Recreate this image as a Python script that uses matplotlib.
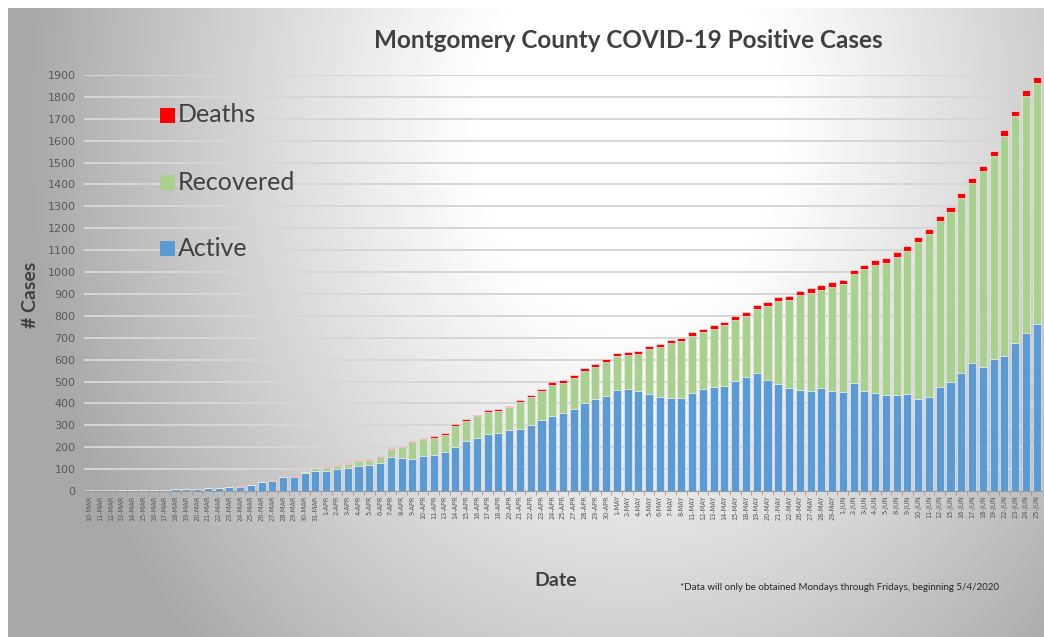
import matplotlib
matplotlib.use("Agg")
import matplotlib.pyplot as plt  # noqa: E402
import numpy as np  # noqa: E402
from matplotlib.patches import Rectangle  # noqa: E402

# dates shown on the x axis (weekdays only after 4-MAY)
DATES = (
    [f"{d}-MAR" for d in range(10, 32)]
    + [f"{d}-APR" for d in [1, 2, 3, 4, 5, 6, 7, 8, 9, 10, 11, 13, 14, 15, 16, 17, 18,
                             20, 21, 22, 23, 24, 25, 27, 28, 29, 30]]
    + [f"{d}-MAY" for d in [1, 2, 4, 5, 6, 7, 8, 11, 12, 13, 14, 15, 18, 19, 20, 21, 22,
                             26, 27, 28, 29]]
    + [f"{d}-JUN" for d in [1, 2, 3, 4, 5, 8, 9, 10, 11, 12, 15, 16, 17, 18, 19,
                             22, 23, 24, 25]]
)

ACTIVE = [1, 1, 2, 3, 3, 4, 4, 5, 7, 8, 10, 12, 12, 16, 19, 26, 39, 45, 62, 63,
          80, 90, 92, 99, 106, 116, 120, 129, 157, 149, 146, 160, 164, 177, 202, 228, 240, 260, 266, 278,
          283, 303, 323, 342, 355, 374, 400, 420, 435, 461, 464, 458, 443, 429, 423, 425, 449, 466, 476, 481,
          501, 521, 539, 507, 489, 469, 462, 457, 469, 457, 454, 495, 457, 449, 438, 437, 443, 422, 428, 476,
          498, 537, 583, 565, 603, 618, 677, 723, 763]
RECOVERED = [0, 0, 0, 0, 0, 0, 0, 0, 0, 0, 0, 0, 0, 1, 1, 1, 1, 2, 3, 3,
             6, 13, 14, 15, 18, 21, 23, 26, 33, 52, 77, 77, 80, 80, 97, 92, 102, 100, 100, 104,
             124, 126, 133, 144, 140, 143, 150, 148, 154, 155, 158, 168, 205, 230, 253, 260, 261, 260, 266, 276,
             282, 279, 292, 339, 377, 402, 434, 449, 451, 477, 490, 494, 555, 583, 605, 632, 654, 716, 745, 758,
             777, 799, 822, 895, 926, 1005, 1034, 1082, 1099]
DEATHS = [0, 0, 0, 0, 0, 0, 0, 1, 1, 1, 1, 1, 1, 1, 1, 1, 1, 1, 1, 1,
          2, 2, 3, 3, 3, 4, 4, 4, 5, 5, 5, 6, 6, 6, 7, 7, 7, 8, 8, 8,
          9, 9, 10, 10, 10, 11, 12, 12, 12, 13, 13, 13, 14, 14, 14, 15, 15, 15, 16, 16,
          16, 17, 17, 17, 18, 18, 18, 19, 19, 19, 20, 20, 20, 21, 21, 21, 22, 22, 22, 23,
          23, 23, 24, 24, 25, 25, 26, 26, 27]

C_ACT, C_REC, C_DEA = "#5b9bd5", "#a9d18e", "#ff0000"
W, H = 1044, 637

fig = plt.figure(figsize=(W / 100, H / 100), dpi=100)
fig.patch.set_facecolor("white")

# gradient backdrop (lighter patch upper centre-right, greyer towards the edges)
bg = fig.add_axes([8 / W, 0, 1 - 8 / W, 1 - 8 / H], zorder=-5)
yy, xx = np.mgrid[0:629, 0:1036]
d = np.sqrt(((xx - 620) / 480) ** 2 + ((yy - 120) / 600) ** 2)
val = 1 - 0.36 * np.clip(d - 0.3, 0, None) ** 1.1
val = np.clip(val, 0.66, 1)
bg.imshow(val, cmap="gray", vmin=0, vmax=1, aspect="auto", interpolation="bilinear")
bg.axis("off")

ax = fig.add_axes([84 / W, (H - 491) / H, 958 / W, 416 / H])
ax.patch.set_alpha(0)
x = np.arange(len(DATES))
act = np.array(ACTIVE)
rec = np.array(RECOVERED)
dea = np.array(DEATHS)
kw = dict(width=0.75, edgecolor="#e8e8e8", linewidth=0.5, zorder=3)
ax.bar(x, act, color=C_ACT, **kw)
ax.bar(x, rec, bottom=act, color=C_REC, **kw)
ax.bar(x, dea, bottom=act + rec, color=C_DEA, **kw)

ax.set_xlim(-0.5, len(DATES) - 0.5)
ax.set_ylim(0, 1900)
ax.set_yticks(range(0, 1901, 100))
ax.yaxis.grid(True, color="#d6d6d6", lw=1.4, zorder=0)
ax.set_axisbelow(True)
for s in ["top", "right", "left"]:
    ax.spines[s].set_visible(False)
ax.spines["bottom"].set_color("#9a9a9a")
ax.tick_params(axis="y", length=0, labelsize=8, labelcolor="#595959", pad=6)
ax.set_xticks(x)
ax.set_xticklabels(DATES, rotation=90, fontsize=4.8, color="#595959")
ax.tick_params(axis="x", length=0, pad=3)
ax.set_xticks(x[:-1] + 0.5, minor=True)
ax.tick_params(axis="x", which="minor", length=3, color="#9a9a9a")

fig.text(628 / W, 1 - 40 / H, "Montgomery County COVID-19 Positive Cases",
         ha="center", va="center", fontsize=17.5, fontweight="bold", color="#404040",
         family="Lato")
fig.text(30 / W, 1 - 295 / H, "# Cases", rotation=90, ha="center", va="center",
         fontsize=14, fontweight="bold", color="#404040", family="Lato")
fig.text(556 / W, 1 - 580 / H, "Date", ha="center", va="center",
         fontsize=14, fontweight="bold", color="#404040", family="Lato")
fig.text(680 / W, 1 - 588 / H,
         "*Data will only be obtained Mondays through Fridays, beginning 5/4/2020",
         ha="left", va="center", fontsize=7, color="#262626", family="Lato")

# legend
for lab, col, yc in [("Deaths", C_DEA, 115), ("Recovered", C_REC, 182), ("Active", C_ACT, 248)]:
    fig.patches.append(Rectangle((160 / W, 1 - (yc + 8) / H), 15 / W, 15 / H,
                                 transform=fig.transFigure, facecolor=col, edgecolor="none"))
    fig.text(178 / W, 1 - yc / H, lab, ha="left", va="center", fontsize=18,
             color="#404040", family="Lato")

fig.savefig("out.png", dpi=100)
